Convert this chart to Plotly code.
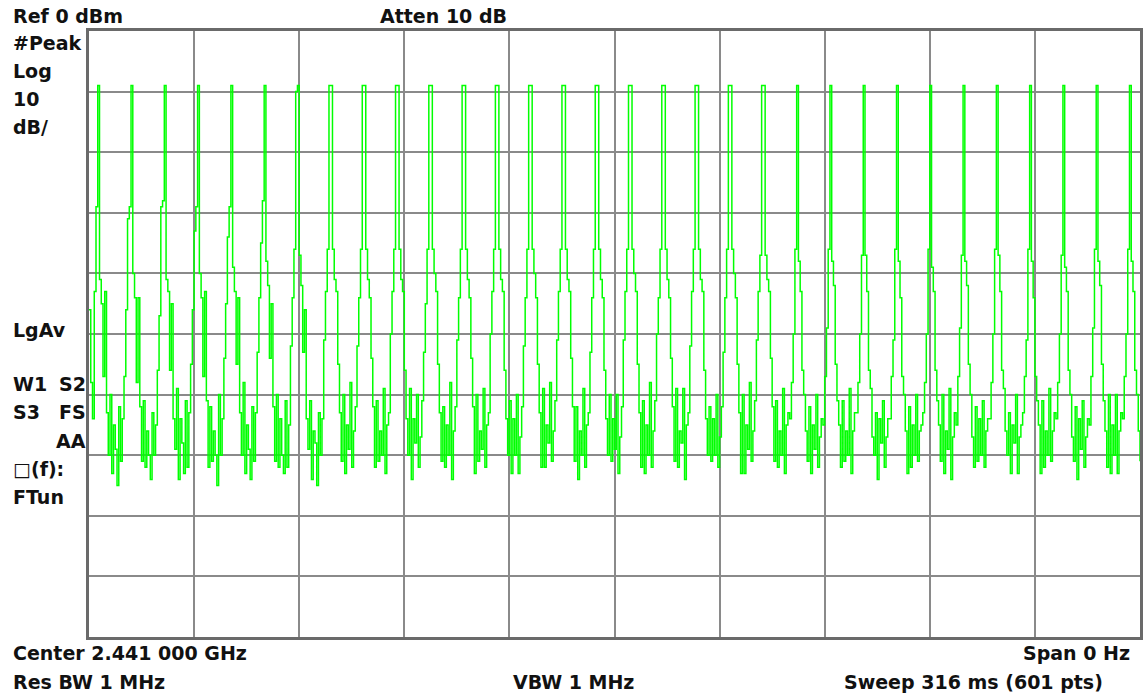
import plotly.graph_objects as go

# Zero-span sweep: 601 points over 316 ms, amplitude in dBm
sweep_ms = 316
n_points = 601

level_dbm = [
    -46,
    -58, -64, -43, -29, -9, -41, -45, -57, -43, -63, -70, -60, -73, -65, -69, -75, -62, -71, -64,
    -57, -46, -31, -29, -9, -40, -44, -58, -44, -62, -71, -61, -72, -66, -70, -74, -63, -70, -65,
    -56, -47, -29, -28, -9, -41, -43, -56, -45, -64, -69, -59, -74, -64, -68, -73, -61, -72, -63,
    -55, -46, -33, -29, -9, -40, -44, -57, -43, -61, -72, -62, -71, -66, -70, -75, -60, -70, -64,
    -54, -45, -34, -29, -9, -39, -43, -55, -44, -63, -70, -58, -73, -65, -69, -74, -62, -71, -63,
    -53, -44, -35, -28, -9, -38, -42, -54, -45, -62, -71, -60, -72, -64, -70, -73, -61, -72, -65,
    -52, -44, -36, -10, -9, -37, -42, -53, -46, -64, -69, -61, -74, -66, -68, -75, -63, -70, -64,
    -51, -43, -36, -9, -9, -36, -41, -43, -55, -63, -71, -60, -73, -65, -69, -58, -72, -66, -62,
    -52, -44, -36, -9, -9, -36, -41, -44, -54, -62, -72, -61, -71, -66, -70, -59, -73, -65, -63,
    -50, -43, -36, -9, -9, -36, -41, -43, -56, -64, -70, -59, -74, -64, -68, -60, -72, -67, -61,
    -53, -45, -36, -9, -9, -36, -40, -43, -55, -63, -71, -62, -72, -65, -70, -58, -74, -66, -62,
    -51, -44, -36, -9, -9, -36, -41, -44, -54, -62, -73, -60, -71, -66, -69, -59, -72, -65, -63,
    -50, -43, -36, -9, -9, -36, -41, -43, -56, -64, -70, -61, -73, -64, -70, -60, -73, -67, -62,
    -52, -44, -36, -9, -9, -36, -40, -44, -55, -63, -72, -59, -72, -65, -68, -58, -71, -66, -61,
    -51, -43, -36, -9, -9, -36, -41, -43, -54, -62, -71, -62, -74, -66, -70, -59, -72, -65, -63,
    -53, -44, -36, -9, -9, -36, -41, -44, -56, -64, -70, -60, -71, -64, -69, -60, -73, -67, -62,
    -51, -43, -36, -9, -9, -36, -40, -43, -55, -63, -72, -61, -73, -65, -70, -58, -72, -66, -61,
    -50, -44, -36, -9, -9, -36, -41, -44, -54, -62, -71, -59, -72, -66, -68, -59, -74, -65, -63,
    -52, -43, -36, -9, -9, -36, -41, -43, -56, -64, -70, -62, -71, -64, -70, -60, -72, -67, -62,
    -53, -44, -36, -9, -9, -36, -40, -44, -55, -63, -73, -60, -73, -65, -69, -58, -71, -66, -61,
    -51, -43, -37, -9, -9, -37, -41, -43, -54, -62, -71, -61, -72, -66, -70, -59, -73, -65, -63,
    -64, -58, -50, -36, -9, -38, -43, -56, -60, -66, -71, -62, -73, -65, -69, -60, -72, -67, -64,
    -65, -57, -49, -36, -9, -38, -42, -55, -61, -65, -72, -61, -71, -66, -70, -59, -73, -66, -63,
    -63, -58, -50, -37, -9, -37, -43, -56, -59, -67, -70, -63, -74, -64, -68, -61, -72, -67, -64,
    -64, -57, -51, -36, -9, -38, -44, -57, -60, -66, -73, -62, -72, -65, -70, -60, -71, -66, -65,
    -63, -58, -50, -36, -9, -39, -43, -56, -61, -65, -71, -60, -73, -66, -69, -59, -74, -67, -63,
    -65, -57, -49, -37, -9, -38, -42, -55, -60, -67, -72, -62, -71, -64, -70, -61, -72, -66, -64,
    -64, -58, -50, -36, -9, -37, -43, -56, -59, -66, -70, -63, -73, -65, -68, -60, -73, -67, -65,
    -63, -57, -51, -36, -9, -38, -44, -57, -61, -65, -73, -61, -72, -66, -70, -59, -71, -66, -63,
    -64, -58, -50, -37, -9, -39, -43, -56, -60, -67, -71, -62, -74, -64, -69, -61, -72, -67, -64,
    -65, -57, -49, -36, -9, -38, -42, -55, -61, -66, -72, -60, -73, -65, -70, -60, -73, -66, -63,
    -64, -57, -50, -36, -9, -38, -43, -56, -60, -66, -71,
]

ref_level = 0
db_per_div = 10
n_div = 10

left_labels = ["#Peak", "Log", "10", "dB/", "LgAv", "W1", "S3", "□(f):", "FTun"]
right_labels = ["S2", "FS", "AA"]

time_ms = [i * sweep_ms / (n_points - 1) for i in range(len(level_dbm))]

fig = go.Figure()
fig.add_trace(go.Scatter(
    x=time_ms, y=level_dbm, mode="lines",
    line=dict(color="#00ff00", width=1.5, shape="hv"),
    hoverinfo="skip", showlegend=False,
))

W, H = 1143, 697
L, T, B = 89, 31, 60
pw, ph = W - L, H - T - B

grid_col = "#8a8a8a"
fig.update_xaxes(
    range=[0, sweep_ms], dtick=sweep_ms / n_div, tick0=0,
    showgrid=True, gridcolor=grid_col, gridwidth=2,
    showticklabels=False, ticks="", zeroline=False,
    showline=True, linecolor="#6a6a6a", linewidth=3, mirror=True,
)
fig.update_yaxes(
    range=[ref_level - n_div * db_per_div, ref_level], dtick=db_per_div,
    showgrid=True, gridcolor=grid_col, gridwidth=2,
    showticklabels=False, ticks="", zeroline=False,
    showline=True, linecolor="#6a6a6a", linewidth=3, mirror=True,
)

FONT = dict(family="DejaVu Sans", size=19, color="#111111")


def ann(text, px, py, anchor="left"):
    fig.add_annotation(
        text=f"<b>{text}</b>", xref="paper", yref="paper",
        x=(px - L) / pw, y=(H - B - py) / ph,
        xanchor=anchor, yanchor="middle", showarrow=False, font=FONT,
    )


ann(f"Ref {ref_level} dBm", 11, 16)
ann("Atten 10 dB", 379, 16)
left_y = [43, 71, 99, 127, 330, 384, 412, 469, 497]
for t, y in zip(left_labels, left_y):
    ann(t, 11, y)
for t, y in zip(right_labels, [384, 412, 441]):
    ann(t, 88, y, "right")
ann("Center 2.441 000 GHz", 11, 653)
ann("Span 0 Hz", 1135, 653, "right")
ann("Res BW 1 MHz", 11, 682)
ann("VBW 1 MHz", 512, 682)
ann(f"Sweep {sweep_ms} ms ({n_points} pts)", 1108, 682, "right")

fig.update_layout(
    width=W, height=H,
    margin=dict(l=L, r=0, t=T, b=B, pad=0),
    paper_bgcolor="white", plot_bgcolor="white",
    showlegend=False,
)

fig.write_html(
    "out.html", config={"displayModeBar": False},
    post_script="document.body.style.margin='0';document.body.style.overflow='hidden';",
)
